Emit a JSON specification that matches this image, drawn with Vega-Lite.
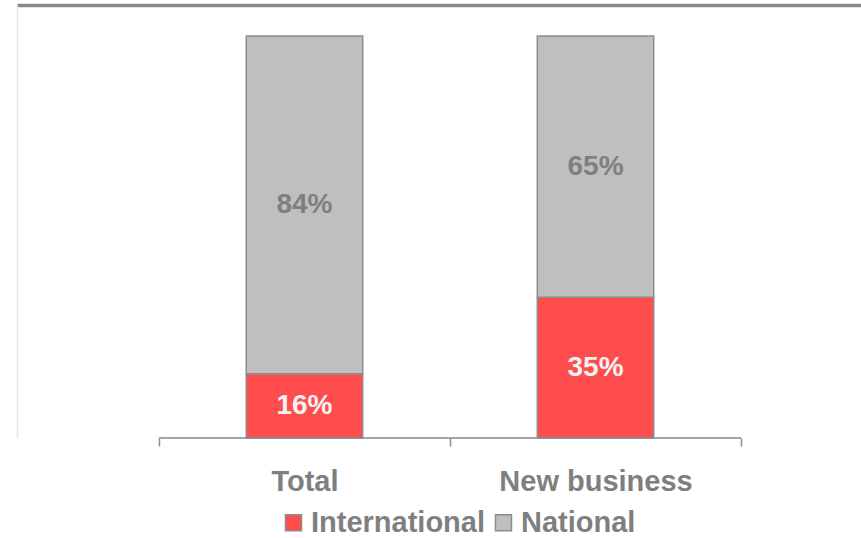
{
  "$schema": "https://vega.github.io/schema/vega-lite/v6.json",
  "autosize": {"type": "none"},
  "padding": {"left": 17, "top": 5, "right": 0, "bottom": 100},
  "width": 844,
  "height": 433,
  "background": "white",
  "config": {
    "view": {"stroke": null},
    "font": "Liberation Sans"
  },
  "data": {
    "values": [
      {"category": "Total", "series": "International", "value": 0.16},
      {"category": "Total", "series": "National", "value": 0.84},
      {"category": "New business", "series": "International", "value": 0.35},
      {"category": "New business", "series": "National", "value": 0.65}
    ]
  },
  "transform": [
    {"stack": "value", "groupby": ["category"], "sort": [{"field": "series", "order": "ascending"}], "as": ["v0", "v1"]}
  ],
  "layer": [
    {
      "mark": {"type": "bar", "width": {"band": 0.4}, "stroke": "#8c8c8c", "strokeWidth": 1.5},
      "encoding": {
        "x": {
          "field": "category", "type": "nominal", "sort": ["Total", "New business"],
          "scale": {"domain": ["Total", "New business"], "paddingInner": 0, "paddingOuter": 0.45, "align": 0.542},
          "axis": {
            "orient": "bottom", "title": null, "domain": false, "ticks": true, "tickBand": "extent",
            "tickSize": 8, "tickColor": "#8c8c8c", "tickWidth": 1.5, "labelAngle": 0,
            "labelFont": "Liberation Sans", "labelFontSize": 29, "labelFontWeight": "bold",
            "labelColor": "#7f7f7f", "labelPadding": 21, "labelLimit": 400, "grid": false
          }
        },
        "y": {
          "field": "v0", "type": "quantitative",
          "scale": {"domain": [0, 1.077], "nice": false, "zero": true},
          "axis": {"title": null, "labels": false, "ticks": false, "grid": false, "domain": true, "domainColor": "#e6e6e6", "domainWidth": 1.5}
        },
        "y2": {"field": "v1"},
        "color": {
          "field": "series", "type": "nominal",
          "scale": {"domain": ["International", "National"], "range": ["#ff4d4d", "#bfbfbf"]},
          "legend": {
            "title": null, "orient": "none", "direction": "horizontal",
            "legendX": 262, "legendY": 503,
            "symbolType": "square", "symbolSize": 256, "symbolStrokeColor": "#8c8c8c", "symbolStrokeWidth": 1.5,
            "symbolOpacity": 1,
            "labelFont": "Liberation Sans", "labelFontSize": 29, "labelFontWeight": "bold", "labelColor": "#7f7f7f",
            "labelOffset": 3, "columnPadding": 3, "padding": 0, "labelLimit": 400
          }
        }
      }
    },
    {
      "mark": {"type": "tick", "size": 291, "thickness": 1.5, "color": "#8c8c8c"},
      "encoding": {
        "x": {
          "field": "category", "type": "nominal", "sort": ["Total", "New business"],
          "axis": {"orient": "top", "title": null, "labels": false, "ticks": false, "grid": false, "domain": true, "domainColor": "#898989", "domainWidth": 3.5}
        },
        "y": {"datum": 0, "type": "quantitative"}
      }
    },
    {
      "transform": [
        {"fold": ["v0", "v1"], "as": ["edge", "pos"]},
        {"aggregate": [{"op": "mean", "field": "pos", "as": "mid"}, {"op": "mean", "field": "value", "as": "share"}], "groupby": ["category", "series"]}
      ],
      "mark": {"type": "text", "font": "Liberation Sans", "fontSize": 28, "fontWeight": "bold", "baseline": "middle", "align": "center"},
      "encoding": {
        "x": {"field": "category", "type": "nominal", "sort": ["Total", "New business"], "axis": null},
        "y": {"field": "mid", "type": "quantitative"},
        "text": {"field": "share", "type": "quantitative", "format": ".0%"},
        "color": {"condition": {"test": "datum.series === 'International'", "value": "#f2f2f2"}, "value": "#7f7f7f"}
      }
    }
  ],
  "resolve": {"axis": {"x": "independent"}}
}
